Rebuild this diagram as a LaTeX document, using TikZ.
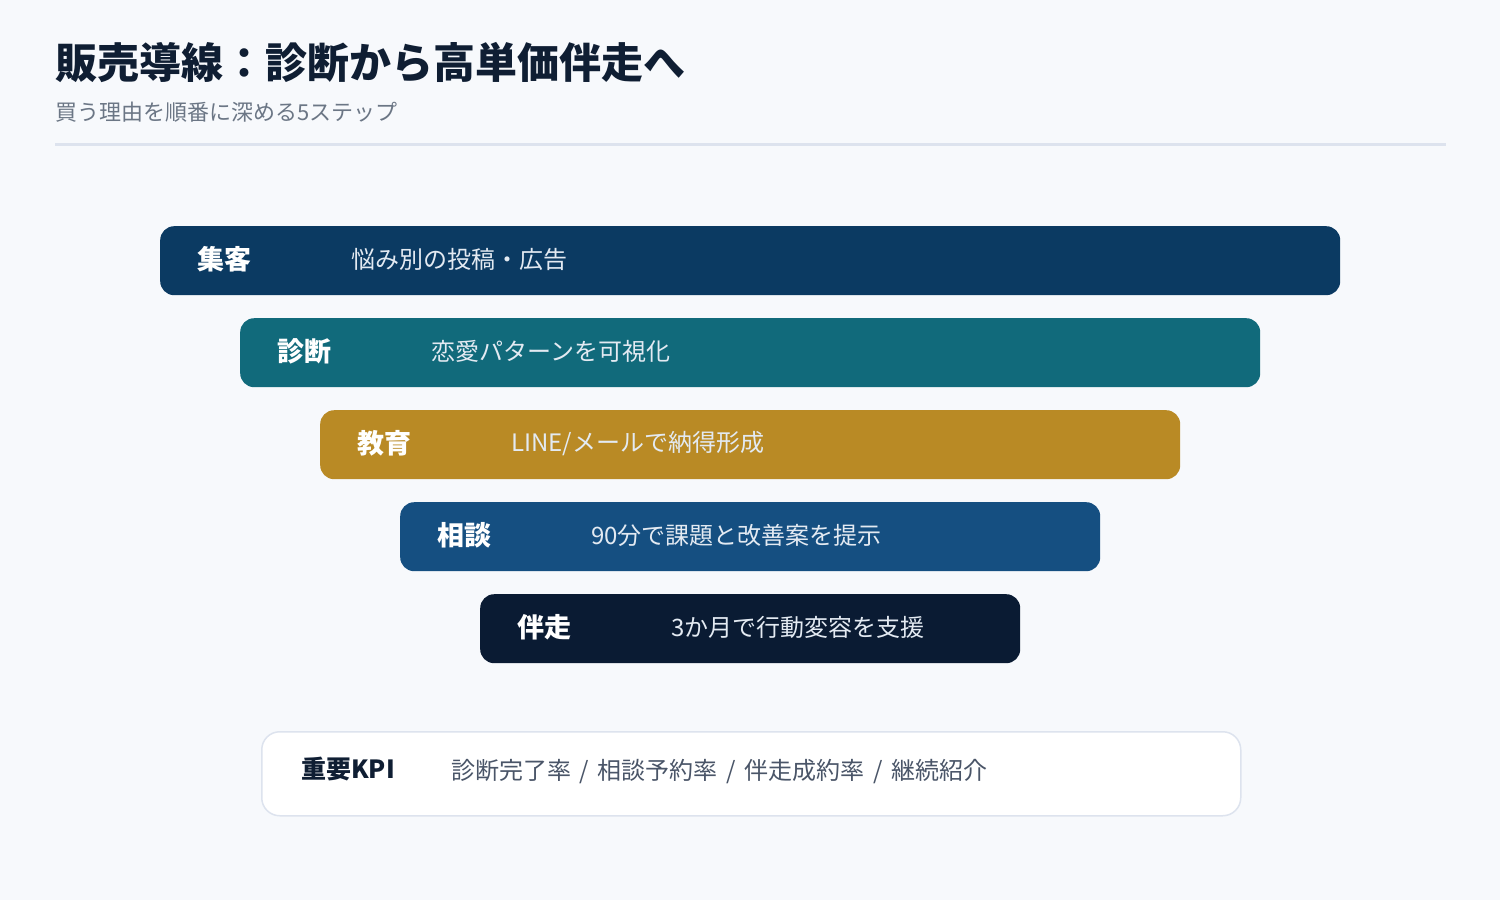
\documentclass[tikz,border=0pt]{standalone}
\usepackage{fontspec}
\setmainfont{Noto Sans CJK JP}
\usetikzlibrary{positioning}

\definecolor{pagebg}{HTML}{F7F9FC}
\definecolor{titlecol}{HTML}{0F1E33}
\definecolor{subcol}{HTML}{6B7685}
\definecolor{rulecol}{HTML}{DDE3EE}
\definecolor{stageA}{HTML}{0B3A62}
\definecolor{stageB}{HTML}{116A7B}
\definecolor{stageC}{HTML}{B98A25}
\definecolor{stageD}{HTML}{154F81}
\definecolor{stageE}{HTML}{0A1B33}
\definecolor{stagefg}{HTML}{E3EAF2}
\definecolor{kpitext}{HTML}{4A5568}
\newcommand{\kpisep}{\hspace{0.36em}/\hspace{0.36em}}

\begin{document}
\begin{tikzpicture}[x=1pt,y=-1pt,
  stage/.style={draw=none,rounded corners=14pt,minimum height=69pt,inner sep=0pt,anchor=north west},
  stagename/.style={anchor=west,inner sep=0pt,text=white,font=\fontsize{27}{30}\selectfont\bfseries},
  stagetext/.style={anchor=west,inner sep=0pt,text=stagefg,font=\fontsize{24}{28}\selectfont}]
\fill[pagebg] (0,0) rectangle (1500,900);
\useasboundingbox (0,0) rectangle (1500,900);

% header
\node[anchor=west,inner sep=0pt,text=titlecol,font=\fontsize{42}{50}\selectfont\bfseries] (title) at (55,63) {販売導線：診断から高単価伴走へ};
\node[anchor=west,inner sep=0pt,text=subcol,font=\fontsize{22}{26}\selectfont] (subtitle) at (55,112) {買う理由を順番に深める5ステップ};
\coordinate (ruleL) at (55,144);
\coordinate (ruleR) at (1446,144);
\draw[rulecol,line width=3pt] (ruleL) -- (ruleR);

% funnel stages
\node[stage,fill=stageA,minimum width=1180pt] (s1) at (160,226) {};
\node[stage,fill=stageB,minimum width=1020pt] (s2) at (240,318) {};
\node[stage,fill=stageC,minimum width=860pt] (s3) at (320,410) {};
\node[stage,fill=stageD,minimum width=700pt] (s4) at (400,502) {};
\node[stage,fill=stageE,minimum width=540pt] (s5) at (480,594) {};

\node[stagename] (s1name) at ([xshift=37pt,yshift=1.5pt]s1.west) {集客};
\node[stagetext] (s1text) at ([xshift=191pt,yshift=1.5pt]s1.west) {悩み別の投稿・広告};
\node[stagename] (s2name) at ([xshift=37pt,yshift=1.5pt]s2.west) {診断};
\node[stagetext] (s2text) at ([xshift=191pt,yshift=1.5pt]s2.west) {恋愛パターンを可視化};
\node[stagename] (s3name) at ([xshift=37pt,yshift=1.5pt]s3.west) {教育};
\node[stagetext] (s3text) at ([xshift=191pt,yshift=1.5pt]s3.west) {LINE/メールで納得形成};
\node[stagename] (s4name) at ([xshift=37pt,yshift=1.5pt]s4.west) {相談};
\node[stagetext] (s4text) at ([xshift=191pt,yshift=1.5pt]s4.west) {90分で課題と改善案を提示};
\node[stagename] (s5name) at ([xshift=37pt,yshift=1.5pt]s5.west) {伴走};
\node[stagetext] (s5text) at ([xshift=191pt,yshift=1.5pt]s5.west) {3か月で行動変容を支援};

% kpi box
\node[draw=rulecol,line width=1.5pt,fill=white,rounded corners=18pt,minimum width=979pt,minimum height=84pt,inner sep=0pt,anchor=north west] (kpi) at (261,731) {};
\node[anchor=west,inner sep=0pt,text=titlecol,font=\fontsize{25}{30}\selectfont\bfseries] (kpiname) at ([xshift=40pt,yshift=5pt]kpi.west) {重要KPI};
\node[anchor=west,inner sep=0pt,text=kpitext,font=\fontsize{24}{28}\selectfont] (kpitxt) at ([xshift=190pt,yshift=2pt]kpi.west) {診断完了率\kpisep 相談予約率\kpisep 伴走成約率\kpisep 継続紹介};
\end{tikzpicture}
\end{document}
